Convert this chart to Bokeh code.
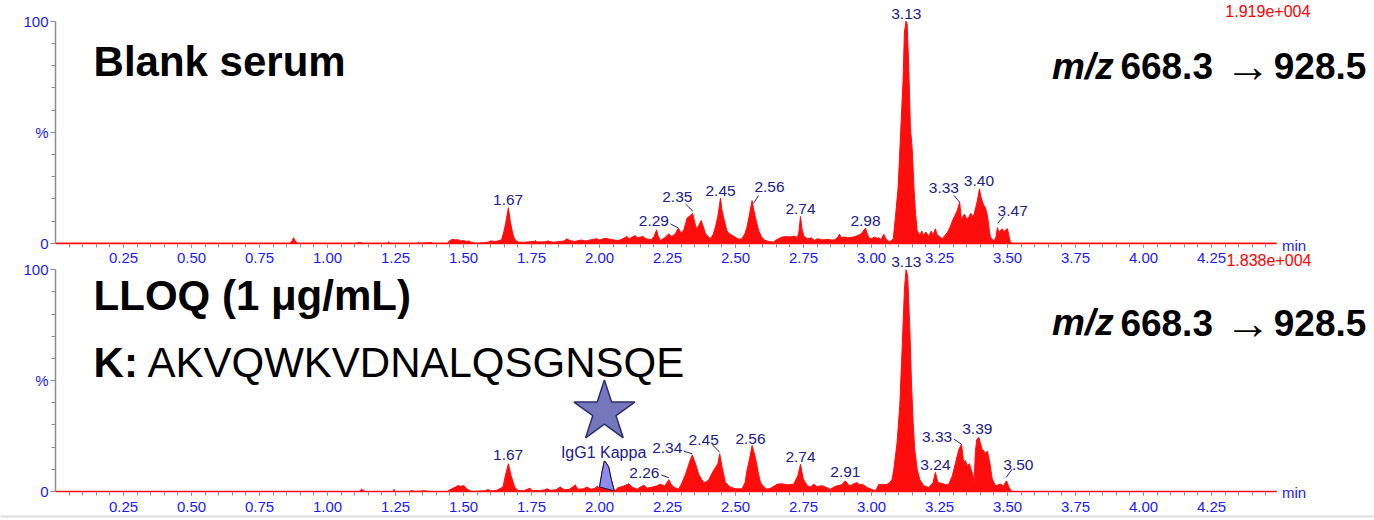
from bokeh.plotting import figure
from bokeh.models import FixedTicker, PrintfTickFormatter, Range1d, LinearAxis, Span
from bokeh.embed import file_html
from bokeh.resources import INLINE
from bokeh.core.properties import value

# ---------------- data (retention time in min, relative intensity in %) ----------------
top_t = [0.00, 0.86, 0.87, 0.875, 0.88, 0.89, 1.10, 1.12, 1.13, 1.22, 1.225, 1.23, 1.33, 1.335, 1.34,
         1.38, 1.39, 1.44, 1.45, 1.46, 1.47, 1.48, 1.49, 1.50, 1.51, 1.52, 1.53, 1.55, 1.59, 1.60,
         1.62, 1.64, 1.65, 1.655, 1.665, 1.673, 1.68, 1.685, 1.69, 1.70, 1.72, 1.76, 1.765, 1.77,
         1.80, 1.81, 1.83, 1.87, 1.88, 1.89, 1.91, 1.93, 1.95, 1.97, 1.99, 2.00, 2.02, 2.03, 2.05,
         2.07, 2.09, 2.10, 2.11, 2.13, 2.14, 2.16, 2.17, 2.19, 2.20, 2.21, 2.215, 2.224, 2.24, 2.255,
         2.265, 2.273, 2.28, 2.29, 2.30, 2.31, 2.322, 2.334, 2.342, 2.35, 2.356, 2.365, 2.374, 2.38,
         2.39, 2.40, 2.408, 2.418, 2.426, 2.435, 2.445, 2.45, 2.456, 2.468, 2.475, 2.487, 2.495,
         2.505, 2.515, 2.524, 2.535, 2.542, 2.55, 2.561, 2.567, 2.573, 2.585, 2.595, 2.605, 2.62,
         2.64, 2.65, 2.665, 2.68, 2.70, 2.715, 2.727, 2.733, 2.739, 2.745, 2.752, 2.765, 2.779,
         2.79, 2.80, 2.82, 2.84, 2.855, 2.865, 2.875, 2.882, 2.89, 2.90, 2.912, 2.925, 2.94, 2.96,
         2.97, 2.978, 2.985, 2.99, 3.00, 3.01, 3.02, 3.027, 3.035, 3.045, 3.053, 3.063, 3.072,
         3.080, 3.088, 3.098, 3.107, 3.116, 3.121, 3.127, 3.131, 3.137, 3.143, 3.150, 3.156, 3.162,
         3.168, 3.175, 3.18, 3.185, 3.19, 3.20, 3.205, 3.21, 3.22, 3.225, 3.235, 3.24, 3.25, 3.26,
         3.27, 3.28, 3.29, 3.297, 3.305, 3.316, 3.324, 3.331, 3.336, 3.342, 3.35, 3.358, 3.365,
         3.372, 3.377, 3.383, 3.389, 3.397, 3.402, 3.407, 3.413, 3.419, 3.425, 3.429, 3.434, 3.438,
         3.451, 3.458, 3.463, 3.468, 3.475, 3.48, 3.487, 3.493, 3.50, 3.505, 3.51, 3.52, 4.49]
top_y = [0, 0, 1.0, 2.5, 1.2, 0, 0, 0.3, 0, 0, 0.6, 0, 0, 0.4, 0,
         0.3, 0, 0, 1.2, 1.8, 1.4, 1.6, 1.0, 1.2, 0.8, 1.0, 0.3, 0, 0.4, 1.0,
         0.8, 1.5, 6.0, 9.0, 16.0, 9.0, 5.0, 2.7, 1.5, 0.5, 0.4, 0.8, 1.2, 0.5,
         0.6, 1.0, 0.4, 1.0, 2.0, 1.2, 0.8, 1.4, 1.0, 1.6, 2.0, 1.4, 2.2, 2.0, 1.5,
         1.2, 2.2, 3.0, 2.0, 3.4, 2.5, 3.0, 2.0, 1.6, 3.0, 6.0, 3.5, 1.2, 2.5, 4.2,
         3.0, 3.7, 4.5, 6.8, 4.5, 6.0, 11.3, 12.5, 13.5, 9.5, 6.5, 8.0, 10.2, 8.0,
         4.2, 3.0, 2.0, 4.0, 7.2, 12.0, 20.4, 15.0, 11.7, 5.7, 4.5, 3.6, 3.0,
         2.2, 1.8, 2.0, 4.5, 7.2, 12.0, 19.2, 15.0, 11.7, 5.7, 3.0, 1.5, 0.8,
         0.5, 1.5, 2.5, 3.0, 2.8, 3.2, 2.5, 5.0, 12.0, 6.0, 3.0, 2.0, 2.4,
         1.2, 2.0, 1.5, 1.7, 1.4, 1.6, 2.5, 4.0, 2.5, 2.8, 2.4, 2.6, 3.0, 4.0,
         5.5, 6.8, 4.0, 2.4, 2.0, 2.8, 2.2, 2.4, 1.5, 4.0, 2.0, 0.8, 1.0,
         2.0, 11.7, 25.2, 49.3, 73.3, 95.0, 100.0, 98.8, 79.3, 52.3, 41.8, 25.2, 13.2,
         5.7, 4.0, 4.2, 5.5, 3.5, 5.0, 4.2, 3.0, 5.5, 3.5, 6.5, 4.0, 3.0, 2.0,
         3.5, 5.0, 7.5, 10.0, 12.0, 15.0, 18.5, 10.0, 12.0, 13.0, 11.0, 11.7, 13.5,
         12.0, 13.0, 16.0, 19.0, 24.5, 21.0, 19.0, 17.0, 16.0, 13.0, 10.0, 5.0, 2.5,
         1.0, 3.0, 7.0, 5.0, 5.7, 6.5, 5.0, 6.0, 6.5, 3.5, 0.5, 0, 0]

bot_t = [0.00, 1.12, 1.125, 1.13, 1.14, 1.24, 1.245, 1.25, 1.30, 1.31, 1.32, 1.36, 1.37, 1.44,
         1.45, 1.47, 1.48, 1.49, 1.50, 1.51, 1.52, 1.53, 1.58, 1.59, 1.60, 1.62, 1.645, 1.654,
         1.665, 1.675, 1.688, 1.70, 1.72, 1.745, 1.75, 1.78, 1.80, 1.807, 1.82, 1.84, 1.856,
         1.87, 1.89, 1.911, 1.92, 1.94, 1.954, 1.97, 1.985, 1.991, 1.997, 2.00, 2.01, 2.018,
         2.024, 2.034, 2.043, 2.053, 2.058, 2.065, 2.077, 2.09, 2.108, 2.12, 2.138, 2.15, 2.163,
         2.175, 2.194, 2.21, 2.224, 2.24, 2.255, 2.265, 2.273, 2.29, 2.30, 2.316, 2.325, 2.332,
         2.341, 2.353, 2.365, 2.375, 2.384, 2.394, 2.402, 2.414, 2.426, 2.435, 2.442, 2.451,
         2.463, 2.481, 2.50, 2.524, 2.535, 2.542, 2.552, 2.561, 2.573, 2.585, 2.592, 2.605,
         2.616, 2.63, 2.653, 2.67, 2.69, 2.714, 2.729, 2.739, 2.749, 2.764, 2.775, 2.788, 2.80,
         2.819, 2.835, 2.849, 2.862, 2.874, 2.89, 2.904, 2.915, 2.923, 2.935, 2.947, 2.956,
         2.966, 2.984, 3.00, 3.015, 3.027, 3.04, 3.058, 3.067, 3.076, 3.082, 3.094, 3.104,
         3.113, 3.121, 3.127, 3.133, 3.141, 3.147, 3.153, 3.159, 3.168, 3.177, 3.192, 3.211,
         3.226, 3.235, 3.244, 3.26, 3.272, 3.284, 3.297, 3.309, 3.321, 3.331, 3.339, 3.345,
         3.352, 3.36, 3.366, 3.372, 3.377, 3.382, 3.387, 3.395, 3.40, 3.407, 3.415, 3.42,
         3.426, 3.435, 3.444, 3.456, 3.465, 3.475, 3.485, 3.496, 3.506, 3.515, 4.49]
bot_y = [0, 0, 1.2, 0.4, 0, 0, 0.9, 0, 0, 0.4, 0, 0.3, 0, 0,
         0.8, 2.0, 2.7, 2.2, 2.7, 1.5, 0.6, 0, 0.3, 0.9, 0.3, 0.4, 2.0, 7.2,
         12.5, 7.2, 2.0, 0.5, 0.3, 1.5, 0.5, 0.4, 0.8, 1.2, 0.5, 0.8, 2.0,
         0.8, 1.0, 3.0, 1.0, 1.2, 2.0, 1.0, 1.5, 2.5, 1.8, 2.0, 9.3, 13.8,
         13.0, 11.0, 5.6, 1.0, 0.2, 1.5, 2.0, 2.5, 3.5, 2.0, 1.0, 2.0, 2.8,
         1.5, 2.0, 2.5, 3.3, 2.5, 5.3, 3.0, 2.0, 1.0, 3.0, 7.7, 11.0, 13.7,
         16.5, 12.5, 7.7, 5.5, 4.0, 4.5, 5.3, 8.3, 10.8, 12.5, 17.0, 10.8,
         4.0, 2.0, 1.2, 1.2, 4.0, 9.3, 15.0, 20.7, 15.4, 7.7, 4.0, 2.0,
         1.0, 1.5, 3.3, 3.5, 3.0, 3.3, 7.0, 12.3, 5.6, 2.6, 2.0, 3.3, 2.2,
         2.6, 1.8, 1.0, 2.0, 2.6, 3.0, 4.8, 3.0, 2.6, 3.5, 4.0, 3.0,
         3.3, 1.8, 1.0, 0.3, 3.3, 3.0, 3.3, 4.0, 5.6, 10.0, 22.0, 38.8,
         65.7, 91.0, 100.0, 97.3, 73.0, 49.0, 31.0, 19.0, 10.0, 5.6, 2.6, 1.8,
         4.0, 8.6, 4.0, 3.7, 3.0, 3.3, 7.0, 13.0, 19.0, 21.3, 13.0, 14.0,
         11.6, 12.5, 10.0, 8.0, 4.0, 18.0, 23.5, 24.4, 22.0, 19.0, 18.0, 17.0,
         18.3, 13.0, 5.6, 2.6, 3.0, 3.3, 2.5, 4.8, 1.8, 0, 0]

# integrated IgG1 Kappa peak (blue)
igg_t = [2.000, 2.010, 2.018, 2.024, 2.034, 2.043, 2.053, 2.058]
igg_y = [2.0, 9.3, 13.8, 13.0, 11.0, 5.6, 1.0, 0.2]

x_ticks = [0.25, 0.50, 0.75, 1.00, 1.25, 1.50, 1.75, 2.00, 2.25, 2.50, 2.75, 3.00, 3.25,
           3.50, 3.75, 4.00, 4.25]
x_minor = [round(0.05 * i, 2) for i in range(1, 90)]
y_labels = {0: "0", 50: "%", 100: "100"}

# peak annotations: text, x (min), y (%)
top_lab_text = ["1.67", "2.29", "2.35", "2.45", "2.56", "2.74", "2.98", "3.13", "3.33", "3.40", "3.47"]
top_lab_x = [1.664, 2.200, 2.286, 2.445, 2.625, 2.739, 2.978, 3.128, 3.266, 3.395, 3.519]
top_lab_y = [19.5, 9.8, 20.7, 23.4, 25.5, 15.5, 10.2, 103.3, 24.8, 28.2, 14.4]
top_lead = [(2.261, 8.7, 2.289, 6.9), (2.316, 17.7, 2.343, 14.4), (2.585, 21.5, 2.566, 17.9),
            (3.303, 21.5, 3.324, 18.5), (3.486, 12.0, 3.464, 9.0)]

bot_lab_text = ["1.67", "2.26", "2.34", "2.45", "2.56", "2.74", "2.91", "3.13", "3.24", "3.33", "3.39", "3.50"]
bot_lab_x = [1.664, 2.165, 2.249, 2.383, 2.555, 2.739, 2.904, 3.128, 3.235, 3.241, 3.389, 3.540]
bot_lab_y = [16.6, 8.4, 19.4, 23.3, 23.5, 15.7, 8.6, 103.7, 12.0, 24.8, 28.1, 12.0]
bot_lead = [(2.227, 7.5, 2.255, 6.2), (2.310, 18.2, 2.341, 17.0), (2.414, 21.2, 2.442, 17.7),
            (3.303, 23.6, 3.331, 21.3), (3.517, 10.1, 3.495, 6.3)]

# ---------------- style / layout ----------------
FONT = "Liberation Sans"
RED = "#ff0d0d"
NAVY = "#20208a"
BLUE = "#1a1aff"
GREY = "#8c8c8c"
W, H = 1374, 520
PX_PER_MIN = 272.0
X0 = -55.0 / PX_PER_MIN
# bottom panel: 0 % at 491 px, 2.217 px per %;  top panel: 0 % at 242.7 px, 2.22 px per %
YB1 = 491.0 / 2.217
YT1 = 242.7 / 2.22

p = figure(width=W, height=H, x_range=Range1d(X0, X0 + W / PX_PER_MIN),
           y_range=Range1d(YB1 - H / 2.217, YB1),
           x_axis_location=None, y_axis_location=None,
           output_backend="svg", toolbar_location=None, min_border=0,
           outline_line_color=None, background_fill_color="white", border_fill_color="white")
p.extra_y_ranges = {"top": Range1d(YT1 - H / 2.22, YT1)}
p.grid.visible = False


def add_axes(rname):
    xa = LinearAxis(y_range_name=rname, fixed_location=0,
                    ticker=FixedTicker(ticks=x_ticks, minor_ticks=x_minor),
                    formatter=PrintfTickFormatter(format="%.2f"), bounds=(0, 4.49),
                    axis_line_color=RED, axis_line_width=1.5,
                    major_tick_line_color=GREY, minor_tick_line_color=GREY,
                    major_tick_out=4, minor_tick_out=4, major_tick_in=0, minor_tick_in=0,
                    major_label_standoff=6, major_label_text_font=FONT,
                    major_label_text_font_size="15px", major_label_text_color=BLUE)
    p.add_layout(xa, "below")
    ya = LinearAxis(y_range_name=rname, fixed_location=0,
                    ticker=FixedTicker(ticks=[0, 50, 100], minor_ticks=[10, 20, 30, 40, 60, 70, 80, 90]),
                    major_label_overrides=y_labels, bounds=(0, 100),
                    axis_line_color=GREY, axis_line_width=1.5,
                    major_tick_line_color=GREY, minor_tick_line_color=GREY,
                    major_tick_out=5, minor_tick_out=4, major_tick_in=0, minor_tick_in=0,
                    major_label_standoff=2, major_label_text_font=FONT,
                    major_label_text_font_size="15px", major_label_text_color=BLUE)
    p.add_layout(ya, "left")


def txt(rname, x, y, text, size, color="black", style="normal", align="left", font=FONT):
    p.text(x=[x], y=[y], text=[text], y_range_name=rname, text_font=value(font),
           text_font_size=size, text_font_style=style, text_color=color,
           text_align=align, text_baseline="middle")


def draw_trace(rname, t, y):
    p.varea(x=t, y1=[0] * len(t), y2=y, fill_color=RED, fill_alpha=1.0, y_range_name=rname)
    p.line(t, y, line_color=RED, line_width=1, y_range_name=rname)


def draw_labels(rname, texts, xs, ys, leads):
    p.text(x=xs, y=ys, text=texts, text_align="center", text_baseline="middle",
           text_font=value(FONT), text_font_size="15.5px", text_color=NAVY, y_range_name=rname)
    p.segment(x0=[l[0] for l in leads], y0=[l[1] for l in leads],
              x1=[l[2] for l in leads], y1=[l[3] for l in leads],
              line_color=NAVY, line_width=1, y_range_name=rname)


def mz_line(rname, y):
    txt(rname, 3.664, y, "m/z", "37px", style="bold italic")
    txt(rname, 3.915, y, "668.3", "37px", style="bold")
    txt(rname, 4.300, y, "\u2192", "46px")
    txt(rname, 4.479, y, "928.5", "37px", style="bold")


# ---------------- top panel : blank serum ----------------
draw_trace("top", top_t, top_y)
draw_labels("top", top_lab_text, top_lab_x, top_lab_y, top_lead)
add_axes("top")
txt("top", 0.140, 81.7, "Blank serum", "42px", style="bold")
mz_line("top", 79.7)
txt("top", 4.301, 104.4, "1.919e+004", "16px", color="#ff0000")
txt("top", 4.509, -1.0, "min", "15px", color=BLUE)

# ---------------- bottom panel : LLOQ ----------------
draw_trace("default", bot_t, bot_y)
p.patch(igg_t, igg_y, fill_color="#8a8cf0", line_color="#111133", line_width=1)
draw_labels("default", bot_lab_text, bot_lab_x, bot_lab_y, bot_lead)
txt("default", 2.015, 17.7, "IgG1 Kappa", "16px", color=NAVY, align="center")
p.scatter(x=[2.018], y=[35.9], marker="star", size=64, fill_color="#7477bb",
          line_color="#2b2e70", line_width=1.5)
add_axes("default")
txt("default", 0.140, 88.3, "LLOQ (1 \u03bcg/mL)", "42px", style="bold")
txt("default", 0.140, 58.1, "K:", "42px", style="bold")
txt("default", 0.338, 58.1, "AKVQWKVDNALQSGNSQE", "42px")
mz_line("default", 76.2)
txt("default", 4.305, 104.5, "1.838e+004", "16px", color="#ff0000")
txt("default", 4.509, -0.5, "min", "15px", color=BLUE)

# light slide edge along the bottom of the picture
p.add_layout(Span(location=-11.3, dimension="width", line_color="#dcdcdc", line_width=2))

open("out.html", "w").write(file_html(p, INLINE))
